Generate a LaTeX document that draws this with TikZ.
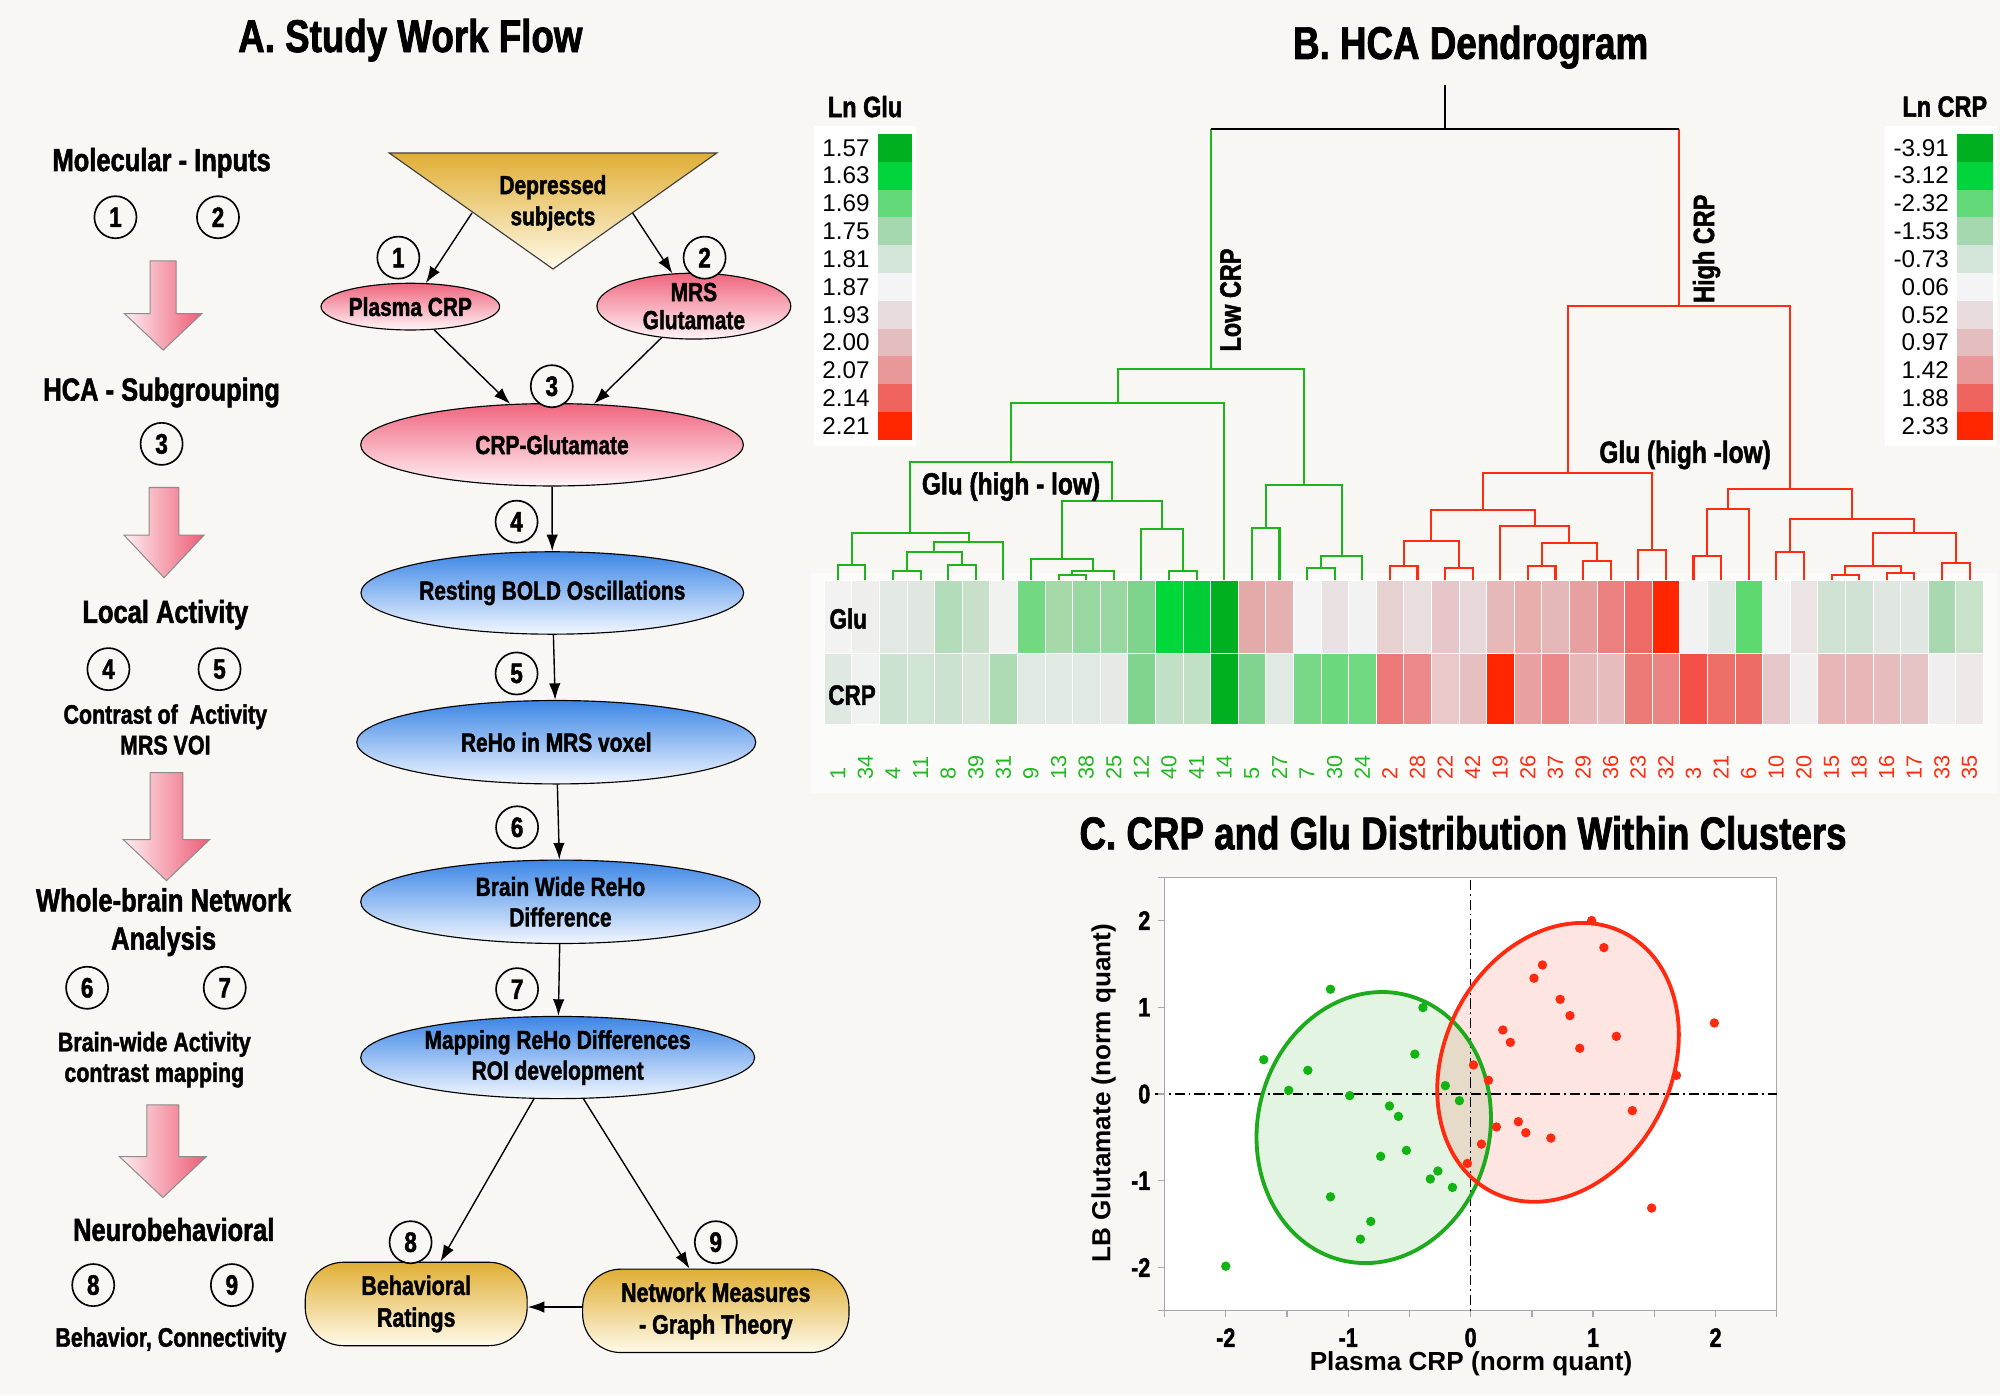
\documentclass[tikz,border=0pt]{standalone}
\usepackage{fontspec}
\setmainfont{Liberation Sans}
\newfontfamily\condfam[FakeStretch=0.8, BoldFeatures={FakeBold=1.6}]{Liberation Sans}
\usetikzlibrary{shapes.geometric,arrows.meta}
\newcommand\cf[2]{\condfam\bfseries\fontsize{#1}{#2}\selectfont}
\newcommand\rf[1]{\normalfont\fontsize{#1}{#1}\selectfont}
\newcommand\dgbr[6]{\draw[#1] (#2,#3) -- (#2,#6) -- (#4,#6) -- (#4,#5);}
\newcommand\pinkarr[6]{\path[draw=black!45, line width=0.8pt, left color=parrL, right color=parrR]
 ({#1-#5},#2) -- ({#1+#5},#2) -- ({#1+#5},#3) -- ({#1+#6},#3) -- (#1,#4) -- ({#1-#6},#3) -- ({#1-#5},#3) -- cycle;}
\definecolor{bgc}{HTML}{F8F7F3}
\definecolor{hmbg}{HTML}{FBFBFA}
\definecolor{dgreen}{HTML}{1CB51C}
\definecolor{dred}{HTML}{FF2C12}
\definecolor{pinkT}{HTML}{F0657E}
\definecolor{pinkB}{HTML}{FFF4F6}
\definecolor{blueT}{HTML}{3C86E6}
\definecolor{blueB}{HTML}{F2F7FF}
\definecolor{goldT}{HTML}{E0AE34}
\definecolor{goldB}{HTML}{FFFAEA}
\definecolor{parrL}{HTML}{FDEEF0}
\definecolor{parrR}{HTML}{EE5C76}
\definecolor{axgray}{HTML}{A8A8A8}
\definecolor{ptgreen}{HTML}{12B412}
\definecolor{ptred}{HTML}{FF2A10}
\definecolor{leafgc}{HTML}{22B822}
\definecolor{ellg}{HTML}{1DAA1D}
\definecolor{ellr}{HTML}{FF2A10}
\def\gluList{F2F2F2,EEEEEC,E2E8E4,E0E6E0,B2DCBA,C8E0CA,F0F2F0,72D882,A6D8A8,98D8A0,98D8A0,7ED48C,00D83A,00CC38,00B020,E4AAAA,E4B0B0,F4F4F4,EAE2E2,F2F2F2,E6D0D0,E8DEDE,E6C6C8,E8D8DA,E6B8B8,E8AEAC,E4B8B8,E6A0A0,EA8080,EE6A66,FF2600,F2F2F2,E0E8E2,5ED870,F4F4F4,ECE4E4,D0E2D4,D0E2D4,E0E6E0,E0E6E0,A8D8B0,C8E2CA}
\def\crpList{E0E8E2,F0F2F2,CCE2D0,D0E4D4,CCE2D0,D8E6DA,AEDAB4,E0EAE2,E0EAE2,E0EAE2,E6EAE6,80D490,C2E0C6,C2E0C6,00B020,80D490,E0EAE2,78D888,6CD87E,70D880,EC7878,EC8A8A,E8C8C8,E6C0C0,FF2600,E8A0A0,EC8888,E6B8B8,E6BCBC,EC7A76,EC8484,F45048,EE6E68,EE6C66,E6C8CA,F0EEEE,E8B6B6,E8B6B6,E6BCBC,E6C4C6,F0EEEE,EEE8E8}
\begin{document}
\begin{tikzpicture}[x=1pt,y=-1pt,
  ttl/.style={font=\cf{36}{40}, inner sep=0},
  lbig/.style={font=\cf{25}{30}, align=center, inner sep=0},
  lsm/.style={font=\cf{21}{24}, align=center, inner sep=0},
  cnum/.style={circle, draw=black, line width=1.3pt, fill=bgc, minimum size=33pt, inner sep=0, font=\cf{22}{22}},
  pinkell/.style={ellipse, draw=black, line width=0.9pt, top color=pinkT, bottom color=pinkB, inner sep=0, font=\cf{20.5}{24}, align=center},
  blueell/.style={ellipse, draw=black, line width=0.9pt, top color=blueT, bottom color=blueB, inner sep=0, font=\cf{20.5}{24}, align=center},
  goldbox/.style={rectangle, rounded corners=30pt, draw=black, line width=0.9pt, top color=goldT, bottom color=goldB, inner sep=0, font=\cf{21}{25}, align=center},
  flowarr/.style={-{Latex[length=13pt,width=9pt]}, line width=1.1pt},
  gline/.style={draw=dgreen, line width=1.6pt},
  rline/.style={draw=dred, line width=1.6pt},
  leafg/.style={rotate=90, anchor=west, inner sep=0, font=\rf{17}, text=leafgc},
  leafr/.style={rotate=90, anchor=west, inner sep=0, font=\rf{17}, text=dred},
  legv/.style={anchor=east, inner sep=0, font=\rf{19}},
  hlab/.style={font=\cf{23}{26}, inner sep=0},
  tickl/.style={font=\cf{21}{21}, inner sep=0},
  axl/.style={font=\bfseries\fontsize{20.5}{20.5}\selectfont, inner sep=0},
  refl/.style={line width=1.2pt, dash pattern=on 8pt off 3pt on 1.5pt off 3pt}
]
\useasboundingbox (0,0) rectangle (1568,1094);
\fill[bgc] (0,0) rectangle (1568,1094);

% ================= Panel A =================
\node[ttl] (tA) at (321.7,31.5) {A. Study Work Flow};

\node[lbig] (lmi) at (126.7,127.6) {Molecular - Inputs};
\node[cnum] (lc1) at (90.5,170.3) {1};
\node[cnum] (lc2) at (170.9,170.3) {2};
\pinkarr{127.9}{204.6}{245.8}{274.5}{10.2}{30.4}
\node[lbig] (lhca) at (126.7,307.7) {HCA - Subgrouping};
\node[cnum] (lc3) at (126.7,348) {3};
\pinkarr{128.6}{382.2}{419.6}{452.9}{11.7}{31.3}
\node[lbig] (lla) at (129.6,481.9) {Local Activity};
\node[cnum] (lc4) at (85,524.6) {4};
\node[cnum] (lc5) at (172.1,524.6) {5};
\node[lsm] (lcon) at (129.6,571.9) {Contrast of\ \ Activity\\MRS VOI};
\pinkarr{130.5}{605.7}{658.2}{690.4}{12.8}{33.9}
\node[lbig] (lwb) at (128.3,723) {Whole-brain Network\\Analysis};
\node[cnum] (lc6) at (68.3,774.4) {6};
\node[cnum] (lc7) at (176.2,774.4) {7};
\node[lsm] (lbw) at (121,830.8) {Brain-wide Activity\\contrast mapping};
\pinkarr{127.7}{866.3}{906.7}{938.9}{12.6}{34.1}
\node[lbig] (lnb) at (136.2,963.9) {Neurobehavioral};
\node[cnum] (lc8) at (73.1,1007.5) {8};
\node[cnum] (lc9) at (181.8,1007.5) {9};
\node[lsm] (lbc) at (134,1050.4) {Behavior, Connectivity};

% flow
\path[draw=black!75, line width=0.9pt, top color=goldT, bottom color=goldB] (305.2,120) -- (561.9,120) -- (433.5,210.9) -- cycle;
\node[font=\cf{20.5}{24.5}, align=center, inner sep=0] (tri) at (433.5,159.1) {Depressed\\subjects};
\coordinate (triL) at (370,167);
\coordinate (triR) at (496,167);
\node[pinkell, minimum width=140pt, minimum height=36.6pt] (pcrp) at (321.7,240.4) {Plasma CRP};
\node[pinkell, minimum width=152pt, minimum height=44.8pt] (mrs) at (544,240) {MRS\\[-2pt]Glutamate};
\node[pinkell, minimum width=300pt, minimum height=64.6pt] (cg) at (432.8,348.7) {CRP-Glutamate};
\node[blueell, minimum width=300pt, minimum height=64.6pt] (bold) at (433,464.9) {Resting BOLD Oscillations};
\node[blueell, minimum width=312.8pt, minimum height=65.4pt] (reho) at (436.1,581.9) {ReHo in MRS voxel};
\node[blueell, minimum width=313.2pt, minimum height=65.4pt] (bw) at (439.4,707) {Brain Wide ReHo\\Difference};
\node[blueell, minimum width=308.8pt, minimum height=64.4pt] (map) at (437.2,829.1) {Mapping ReHo Differences\\ROI development};
\node[goldbox, minimum width=174pt, minimum height=65.4pt] (beh) at (326.3,1022.3) {Behavioral\\Ratings};
\node[goldbox, minimum width=208.8pt, minimum height=65.4pt] (net) at (561.2,1027.7) {Network Measures\\- Graph Theory};

\draw[flowarr] (triL) -- (pcrp);
\draw[flowarr] (triR) -- (mrs);
\draw[flowarr] (pcrp) -- (cg);
\draw[flowarr] (mrs) -- (cg);
\draw[flowarr] (cg) -- (bold);
\draw[flowarr] (bold) -- (reho);
\draw[flowarr] (reho) -- (bw);
\draw[flowarr] (bw) -- (map);
\draw[flowarr] (map) -- (beh);
\draw[flowarr] (map) -- (net);
\draw[flowarr] ([yshift=3pt]net.west) -- ([yshift=3pt]net.west -| beh.east);

\node[cnum] (f1) at (312.3,202) {1};
\node[cnum] (f2) at (552.4,202) {2};
\node[cnum] (f3) at (432.6,302.8) {3};
\node[cnum] (f4) at (405,409) {4};
\node[cnum] (f5) at (405,528) {5};
\node[cnum] (f6) at (405.4,648.6) {6};
\node[cnum] (f7) at (405.4,775.5) {7};
\node[cnum] (f8) at (321.9,973.9) {8};
\node[cnum] (f9) at (561.2,973.9) {9};

% ================= Panel B =================
\node[ttl] (tB) at (1153,37) {B. HCA Dendrogram};
\node[hlab] (lnglu) at (678.2,83.6) {Ln Glu};
\node[hlab] (lncrp) at (1524.7,83.6) {Ln CRP};
\fill[white] (638,99) rectangle (718,350);
\fill[white] (1478,99) rectangle (1566,350);
\foreach \v/\c [count=\i] in {1.57/00B020,1.63/00D43C,1.69/62D878,1.75/A6D8B0,1.81/D4E6DA,1.87/F4F4F6,1.93/E8DCDE,2.00/E4BEBE,2.07/E89898,2.14/F06460,2.21/FF2600}{
  \definecolor{lc}{HTML}{\c}
  \fill[lc] (688,{105+21.8*(\i-1)}) rectangle (715,{105+21.8*\i});
  \node[legv] at (682,{105+21.8*(\i-0.5)}) {\v};
}
\foreach \v/\c [count=\i] in {-3.91/00B020,-3.12/00D43C,-2.32/62D878,-1.53/A6D8B0,-0.73/D4E6DA,0.06/F4F4F6,0.52/E8DCDE,0.97/E4BEBE,1.42/E89898,1.88/F06460,2.33/FF2600}{
  \definecolor{lc}{HTML}{\c}
  \fill[lc] (1534.5,{105+21.8*(\i-1)}) rectangle (1562.2,{105+21.8*\i});
  \node[legv] at (1528,{105+21.8*(\i-0.5)}) {\v};
}
% heatmap
\fill[hmbg] (636,449) rectangle (1566,622);
\foreach \c [count=\i] in \gluList {\definecolor{hc}{HTML}{\c}\path[fill=hc, draw=white, line width=0.3pt] ({646+21.64*(\i-1)},455) rectangle ({646+21.64*\i},512);}
\foreach \c [count=\i] in \crpList {\definecolor{hc}{HTML}{\c}\path[fill=hc, draw=white, line width=0.3pt] ({646+21.64*(\i-1)},512) rectangle ({646+21.64*\i},568);}
\node[font=\cf{22}{22}, inner sep=0] (rglu) at (665,485) {Glu};
\node[font=\cf{22}{22}, inner sep=0] (rcrp) at (668,545) {CRP};
\foreach \l [count=\i] in {1,34,4,11,8,39,31,9,13,38,25,12,40,41,14,5,27,7,30,24}
  \node[leafg] at ({635.18+21.64*\i},611) {\l};
\foreach \l [count=\i from 21] in {2,28,22,42,19,26,37,29,36,23,32,3,21,6,10,20,15,18,16,17,33,35}
  \node[leafr] at ({635.18+21.64*\i},611) {\l};

% dendrogram green
\dgbr{gline}{656.8}{455}{678.5}{455}{443}
\dgbr{gline}{700.1}{455}{721.7}{455}{448}
\dgbr{gline}{743.4}{455}{765.0}{455}{443}
\dgbr{gline}{710.9}{448}{754.2}{443}{433}
\dgbr{gline}{732.6}{433}{786.7}{455}{425}
\dgbr{gline}{667.7}{443}{759.6}{425}{418}
\dgbr{gline}{829.9}{455}{851.6}{455}{450.5}
\dgbr{gline}{840.8}{450.5}{873.2}{455}{448}
\dgbr{gline}{808.3}{455}{857.0}{448}{438}
\dgbr{gline}{916.5}{455}{938.1}{455}{448}
\dgbr{gline}{894.9}{455}{927.3}{448}{415}
\dgbr{gline}{832.7}{438}{911.1}{415}{393}
\dgbr{gline}{713.7}{418}{871.9}{393}{362}
\dgbr{gline}{792.8}{362}{959.8}{455}{316}
\dgbr{gline}{981.4}{455}{1003.1}{455}{414}
\dgbr{gline}{1024.7}{455}{1046.3}{455}{445}
\dgbr{gline}{1035.5}{445}{1068.0}{455}{436}
\dgbr{gline}{992.3}{414}{1051.8}{436}{380}
\dgbr{gline}{876.3}{316}{1022.0}{380}{289}
% dendrogram red
\dgbr{rline}{1089.6}{455}{1111.3}{455}{444}
\dgbr{rline}{1132.9}{455}{1154.5}{455}{445}
\dgbr{rline}{1100.5}{444}{1143.7}{445}{424}
\dgbr{rline}{1197.8}{455}{1219.5}{455}{444}
\dgbr{rline}{1241.1}{455}{1262.7}{455}{440}
\dgbr{rline}{1208.7}{444}{1251.9}{440}{426}
\dgbr{rline}{1176.2}{455}{1230.3}{426}{412.5}
\dgbr{rline}{1122.1}{424}{1203.3}{412.5}{399.5}
\dgbr{rline}{1284.4}{455}{1306.0}{455}{431}
\dgbr{rline}{1162.7}{399.5}{1295.2}{431}{371}
\dgbr{rline}{1327.7}{455}{1349.3}{455}{436}
\dgbr{rline}{1338.5}{436}{1370.9}{455}{399}
\dgbr{rline}{1392.6}{455}{1414.2}{455}{433}
\dgbr{rline}{1435.9}{455}{1457.5}{455}{451}
\dgbr{rline}{1479.1}{455}{1500.8}{455}{449}
\dgbr{rline}{1446.7}{451}{1490.0}{449}{443.5}
\dgbr{rline}{1522.4}{455}{1544.1}{455}{441.5}
\dgbr{rline}{1468.3}{443.5}{1533.3}{441.5}{418}
\dgbr{rline}{1403.4}{433}{1500.8}{418}{407}
\dgbr{rline}{1354.7}{399}{1452.1}{407}{383}
\dgbr{rline}{1229.0}{371}{1403.4}{383}{240}
\draw[gline] (949.2,289) -- (949.2,101);
\draw[rline] (1316.2,240) -- (1316.2,101);
\draw[black, line width=1.6pt] (949.2,101) -- (1316.2,101) (1132.7,101) -- (1132.7,66.6);

\node[hlab, rotate=90] (lowcrp) at (964.7,235.2) {Low CRP};
\node[hlab, rotate=90] (highcrp) at (1337.9,195) {High CRP};
\node[font=\cf{24}{24}, inner sep=0] (glhl1) at (792.6,381.5) {Glu (high - low)};
\node[font=\cf{24}{24}, inner sep=0] (glhl2) at (1321.1,356.7) {Glu (high -low)};

% ================= Panel C =================
\node[ttl] (tC) at (1147,653) {C. CRP and Glu Distribution Within Clusters};
\draw[axgray, fill=white, line width=1pt] (913,687.7) rectangle (1393,1027.7);
\fill[ellg, fill opacity=0.12, rotate around={-13:(1077,884)}] (1077,884) ellipse [x radius=91pt, y radius=107pt];
\fill[ellr, fill opacity=0.12, rotate around={-27:(1221.5,832.9)}] (1221.5,832.9) ellipse [x radius=89pt, y radius=114pt];
\begin{scope}[shift={(1153,857.7)}, x=96pt, y=68pt]
  \draw[refl] (-2.58,0) -- (2.5,0);
  \draw[refl] (0,2.47) -- (0,-2.5);
  \foreach \v in {-2.5,-2,...,2.5} \draw[axgray, line width=1pt] (\v,-2.5) -- ++(0,-5pt);
  \foreach \v in {-2.5,-2,-1,0,1,2,2.5} \draw[axgray, line width=1pt] (-2.5,\v) -- ++(-5pt,0);
  \foreach \v in {-2,-1,0,1,2} \node[tickl] at (\v,-2.5) [yshift=-21pt] {\v};
  \foreach \v in {-2,-1,0,1,2} \node[tickl, anchor=east] at (-2.5,\v) [xshift=-11pt] {\v};
\end{scope}
\draw[ellg, line width=3pt, rotate around={-13:(1077,884)}] (1077,884) ellipse [x radius=91pt, y radius=107pt];
\draw[ellr, line width=3pt, rotate around={-27:(1221.5,832.9)}] (1221.5,832.9) ellipse [x radius=89pt, y radius=114pt];
\begin{scope}[shift={(1153,857.7)}, x=96pt, y=68pt]
  \foreach \px/\py in {-1.145/1.208,-0.39/0.996,-1.69/0.396,-1.33/0.273,-0.456/0.46,-1.486/0.042,-0.988/-0.019,-0.207/0.096,-0.092/-0.077,-0.663/-0.138,-0.59/-0.258,-0.525/-0.65,-0.735/-0.719,-0.268/-0.888,-0.33/-0.98,-0.149/-1.077,-1.145/-1.185,-0.816/-1.469,-0.9/-1.673,-2.0/-1.985}
    \fill[ptgreen] (\px,\py) circle[radius=3.7pt];
  \foreach \px/\py in {0.988/2.0,1.088/1.688,0.586/1.488,0.517/1.335,0.731/1.092,0.811/0.904,0.263/0.738,0.324/0.596,1.19/0.665,0.891/0.527,1.99/0.819,0.023/0.335,0.145/0.158,1.68/0.215,1.32/-0.192,0.21/-0.38,0.389/-0.319,0.45/-0.446,0.655/-0.508,0.088/-0.577,-0.027/-0.8,1.478/-1.315}
    \fill[ptred] (\px,\py) circle[radius=3.7pt];
\end{scope}
\node[axl] (xlab) at (1153.3,1069.4) {Plasma CRP (norm quant)};
\node[axl, rotate=90] (ylab) at (865.2,857) {LB Glutamate (norm quant)};
\end{tikzpicture}
\end{document}
